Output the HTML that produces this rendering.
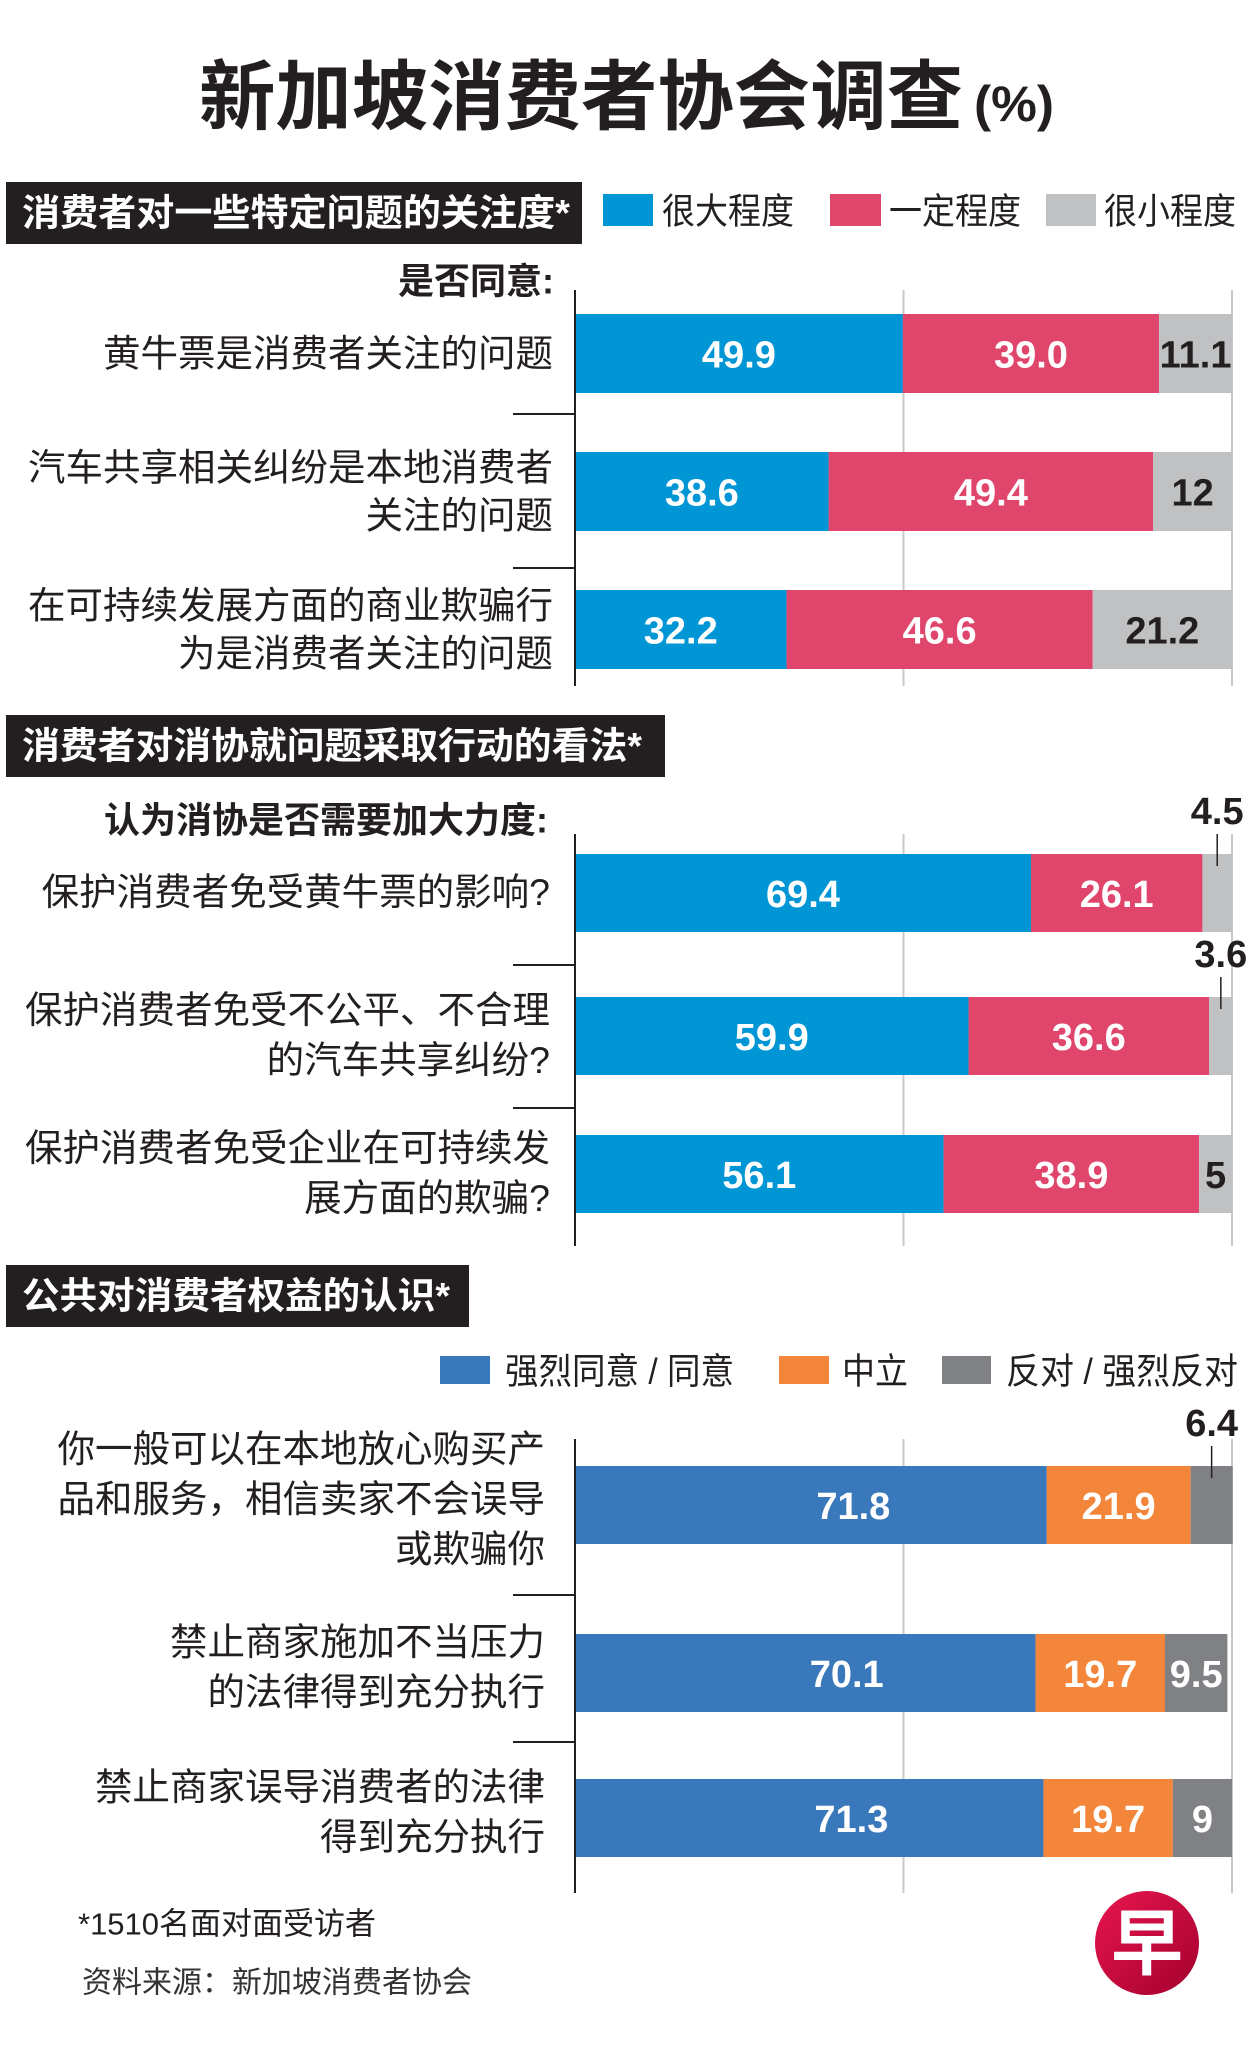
<!DOCTYPE html>
<html><head><meta charset="utf-8"><style>
html,body{margin:0;padding:0;background:#fff;}
svg{display:block;font-family:"Liberation Sans","Noto Sans CJK SC",sans-serif;}
.lab{font-size:37.5px;fill:#231f20;}
.val{font-size:38px;font-weight:bold;}
</style></head><body>
<svg id="chart" width="1251" height="2045" viewBox="0 0 1251 2045" xmlns="http://www.w3.org/2000/svg">
<text x="199" y="98" dominant-baseline="central" font-size="76" font-weight="bold" fill="#231f20" textLength="764" lengthAdjust="spacingAndGlyphs">新加坡消费者协会调查</text>
<text x="974" y="104" dominant-baseline="central" font-size="50" font-weight="bold" fill="#231f20" textLength="80" lengthAdjust="spacingAndGlyphs">(%)</text>

<rect x="6" y="182" width="576" height="62" fill="#231f20"/>
<text x="22" y="213" dominant-baseline="central" font-size="37" font-weight="bold" fill="#fff" textLength="548" lengthAdjust="spacingAndGlyphs">消费者对一些特定问题的关注度*</text>
<rect x="603" y="194" width="50" height="32" fill="#0096d6"/>
<text x="662" y="211" dominant-baseline="central" font-size="36" fill="#231f20" textLength="132" lengthAdjust="spacingAndGlyphs">很大程度</text>
<rect x="830" y="194" width="51" height="32" fill="#e0466b"/>
<text x="889" y="211" dominant-baseline="central" font-size="36" fill="#231f20" textLength="132" lengthAdjust="spacingAndGlyphs">一定程度</text>
<rect x="1046" y="194" width="50" height="32" fill="#c0c1c3"/>
<text x="1104" y="211" dominant-baseline="central" font-size="36" fill="#231f20" textLength="132" lengthAdjust="spacingAndGlyphs">很小程度</text>
<text x="554" y="281" text-anchor="end" dominant-baseline="central" font-size="36" font-weight="bold" fill="#231f20">是否同意:</text>

<rect x="6" y="715" width="659" height="62" fill="#231f20"/>
<text x="22" y="746" dominant-baseline="central" font-size="37" font-weight="bold" fill="#fff" textLength="620" lengthAdjust="spacingAndGlyphs">消费者对消协就问题采取行动的看法*</text>
<text x="548" y="820" text-anchor="end" dominant-baseline="central" font-size="36" font-weight="bold" fill="#231f20">认为消协是否需要加大力度:</text>

<rect x="6" y="1265" width="463" height="62" fill="#231f20"/>
<text x="22" y="1296" dominant-baseline="central" font-size="37" font-weight="bold" fill="#fff" textLength="428" lengthAdjust="spacingAndGlyphs">公共对消费者权益的认识*</text>
<rect x="440" y="1356" width="50" height="28" fill="#3a78bc"/>
<text x="505" y="1371" dominant-baseline="central" font-size="36" fill="#231f20" textLength="229" lengthAdjust="spacingAndGlyphs">强烈同意 / 同意</text>
<rect x="779" y="1356" width="50" height="28" fill="#f3863a"/>
<text x="842" y="1371" dominant-baseline="central" font-size="36" fill="#231f20" textLength="66" lengthAdjust="spacingAndGlyphs">中立</text>
<rect x="942" y="1356" width="49" height="28" fill="#808184"/>
<text x="1006" y="1371" dominant-baseline="central" font-size="36" fill="#231f20" textLength="232" lengthAdjust="spacingAndGlyphs">反对 / 强烈反对</text>

<text x="78" y="1924" dominant-baseline="central" font-size="31" fill="#231f20">*1510名面对面受访者</text>
<text x="82" y="1983" dominant-baseline="central" font-size="30" fill="#333">资料来源：新加坡消费者协会</text>

<g>
<defs><linearGradient id="lg" x1="0" y1="0" x2="1" y2="1"><stop offset="0" stop-color="#e8164f"/><stop offset="1" stop-color="#a3002e"/></linearGradient></defs>
<circle cx="1147" cy="1943" r="52" fill="url(#lg)"/>
<text x="1147" y="1945" text-anchor="middle" dominant-baseline="central" font-size="72" font-weight="bold" fill="#fff">早</text>
</g>
<g id="plots"></g>
</svg>
<script>
const s1Cats = [["黄牛票是消费者关注的问题"],["汽车共享相关纠纷是本地消费者","关注的问题"],["在可持续发展方面的商业欺骗行","为是消费者关注的问题"]];
const s1Large = [49.9, 38.6, 32.2];
const s1Some = [39.0, 49.4, 46.6];
const s1Small = [11.1, 12, 21.2];
const s1Labels = [["49.9","39.0","11.1"],["38.6","49.4","12"],["32.2","46.6","21.2"]];
const s2Cats = [["保护消费者免受黄牛票的影响?"],["保护消费者免受不公平、不合理","的汽车共享纠纷?"],["保护消费者免受企业在可持续发","展方面的欺骗?"]];
const s2Large = [69.4, 59.9, 56.1];
const s2Some = [26.1, 36.6, 38.9];
const s2Small = [4.5, 3.6, 5];
const s2Labels = [["69.4","26.1","4.5"],["59.9","36.6","3.6"],["56.1","38.9","5"]];
const s3Cats = [["你一般可以在本地放心购买产","品和服务，相信卖家不会误导","或欺骗你"],["禁止商家施加不当压力","的法律得到充分执行"],["禁止商家误导消费者的法律","得到充分执行"]];
const s3Agree = [71.8, 70.1, 71.3];
const s3Neutral = [21.9, 19.7, 19.7];
const s3Disagree = [6.4, 9.5, 9];
const s3Labels = [["71.8","21.9","6.4"],["70.1","19.7","9.5"],["71.3","19.7","9"]];

const NS = "http://www.w3.org/2000/svg";
const root = document.getElementById('plots');
const X0 = 575, X100 = 1232;
function xs(v){ return X0 + (X100 - X0) * v / 100; }
function mk(tag, attrs, parent){ const e = document.createElementNS(NS, tag); for (const k in attrs) e.setAttribute(k, attrs[k]); (parent||root).appendChild(e); return e; }

function section(cfg){
  const g = mk('g', {});
  
  
  [50, 100].forEach(v => {
    const l = mk('line', {x1: xs(v), x2: xs(v), y1: cfg.axisTop, y2: cfg.axisBottom, stroke: '#c8c8c8', 'stroke-width': 2}, g);
    
    
  });
  const series = cfg.series;
  for (let i = 0; i < cfg.cats.length; i++) {
    const y = cfg.barTops[i];
    let acc = 0;
    for (let s = 0; s < series.length; s++) {
      const v = series[s].vals[i];
      const x = xs(acc), w = xs(acc + v) - xs(acc);
      const r = mk('rect', {x: x, y: y, width: w, height: cfg.barH, fill: series[s].color}, g);
      
      
      const lbl = cfg.labels[i][s];
      if (v >= cfg.calloutMax) {
        const cx = x + w * (s === 0 ? cfg.firstPos : 0.5);
        const t = mk('text', {x: cx, y: y + cfg.barH/2 + 2, 'text-anchor': 'middle', 'dominant-baseline': 'central', class: 'val', fill: series[s].text}, g);
        t.textContent = lbl;
        
        
      } else {
        const cx = x + w/2;
        const ld = mk('line', {x1: cx, x2: cx, y1: y - 20, y2: y + 12, stroke: '#231f20', 'stroke-width': 1.5}, g);
        
        
        const t = mk('text', {x: cx, y: y - 42, 'text-anchor': 'middle', 'dominant-baseline': 'central', class: 'val', fill: '#231f20'}, g);
        t.textContent = lbl;
        
        
      }
      acc += v;
    }
    const lines = cfg.cats[i];
    const c = y + cfg.barH/2;
    const lh = cfg.lineH;
    lines.forEach((ln, k) => {
      const ty = c - (lines.length - 1) * lh / 2 + k * lh + (cfg.labelShift || 0);
      const t = mk('text', {x: cfg.labelX, y: ty, 'text-anchor': 'end', 'dominant-baseline': 'central', class: 'lab'}, g);
      t.textContent = ln;
      
      
    });
  }
  cfg.seps.forEach((sy, k) => {
    const l = mk('line', {x1: 513, x2: X0, y1: sy, y2: sy, stroke: '#231f20', 'stroke-width': 2}, g);
    
    
  });
  const ax = mk('line', {x1: X0, x2: X0, y1: cfg.axisTop, y2: cfg.axisBottom, stroke: '#231f20', 'stroke-width': 2}, g);
  
  
}

section({name: 'section1-chart', cats: s1Cats, labels: s1Labels, axisTop: 290, axisBottom: 686, barTops: [314, 452, 590], barH: 79, seps: [414, 568], labelX: 553, lineH: 48, firstPos: 0.5, calloutMax: 5,
  series: [{key:'large', vals: s1Large, color:'#0096d6', text:'#fff'}, {key:'some', vals: s1Some, color:'#e0466b', text:'#fff'}, {key:'small', vals: s1Small, color:'#c0c1c3', text:'#231f20'}]});
section({name: 'section2-chart', cats: s2Cats, labels: s2Labels, axisTop: 834, axisBottom: 1246, barTops: [854, 997, 1135], barH: 78, seps: [965, 1108], labelX: 550, lineH: 50, firstPos: 0.5, labelShift: -1, calloutMax: 5,
  series: [{key:'large', vals: s2Large, color:'#0096d6', text:'#fff'}, {key:'some', vals: s2Some, color:'#e0466b', text:'#fff'}, {key:'small', vals: s2Small, color:'#c0c1c3', text:'#231f20'}]});
section({name: 'section3-chart', cats: s3Cats, labels: s3Labels, axisTop: 1439, axisBottom: 1893, barTops: [1466, 1634, 1779], barH: 78, seps: [1595, 1742], labelX: 545, lineH: 50, firstPos: 0.59, labelShift: -6, calloutMax: 7,
  series: [{key:'agree', vals: s3Agree, color:'#3a78bc', text:'#fff'}, {key:'neutral', vals: s3Neutral, color:'#f3863a', text:'#fff'}, {key:'disagree', vals: s3Disagree, color:'#808184', text:'#fff'}]});
</script>
</body></html>
